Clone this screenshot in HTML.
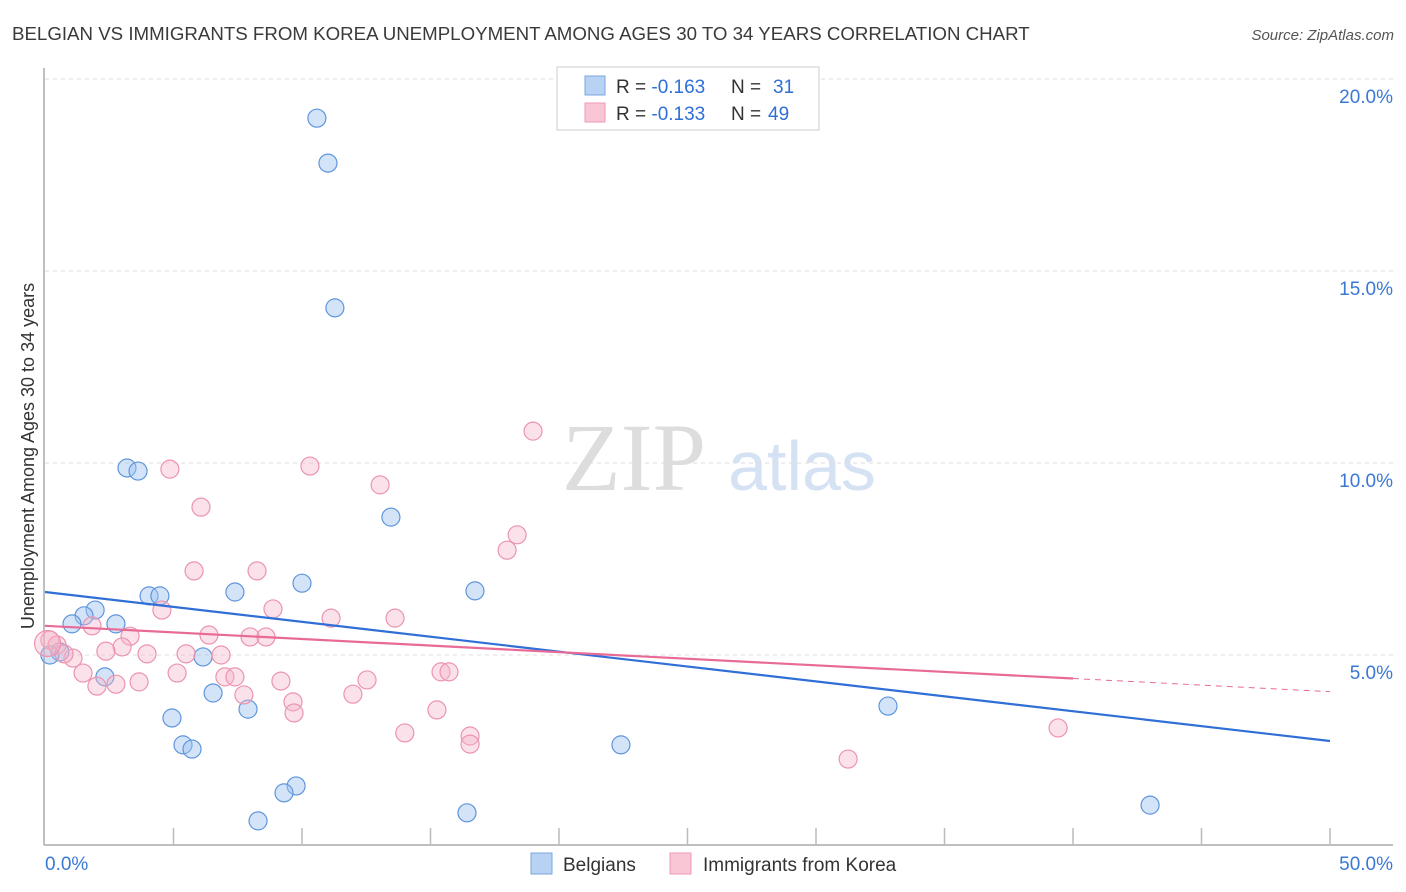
<!DOCTYPE html>
<html><head><meta charset="utf-8"><style>
body{margin:0;background:#fff;font-family:"Liberation Sans",sans-serif}
</style></head><body>
<svg id="c" width="1406" height="892" style="display:block">
<text x="12" y="40" font-size="18.7" fill="#3a3a3a">BELGIAN VS IMMIGRANTS FROM KOREA UNEMPLOYMENT AMONG AGES 30 TO 34 YEARS CORRELATION CHART</text>
<text x="1394" y="40" font-size="15" fill="#555" font-style="italic" text-anchor="end">Source: ZipAtlas.com</text>
<text x="634" y="490" font-size="96" fill="#ddd" font-family="Liberation Serif,serif" text-anchor="middle">ZIP</text>
<text x="802" y="490" font-size="70" fill="#d5e2f3" text-anchor="middle">atlas</text>
<text transform="translate(34,456) rotate(-90)" font-size="18" fill="#333" text-anchor="middle">Unemployment Among Ages 30 to 34 years</text>
<g id="grid"></g><g id="marks"></g>
<g>
<rect x="557" y="67" width="262" height="63" fill="#fff" stroke="#ccc"/>
<rect x="585" y="76" width="20" height="19" fill="#b8d2f3" stroke="#7aa7e0"/>
<rect x="585" y="103" width="20" height="19" fill="#f9c6d5" stroke="#ef9ab5"/>
<text x="616" y="93" font-size="19" fill="#333">R = <tspan fill="#2f6fd6">-0.163</tspan><tspan x="731">N = </tspan><tspan fill="#2f6fd6" x="773">31</tspan></text>
<text x="616" y="120" font-size="19" fill="#333">R = <tspan fill="#2f6fd6">-0.133</tspan><tspan x="731">N = </tspan><tspan fill="#2f6fd6" x="768">49</tspan></text>
</g>
<g>
<rect x="531" y="853" width="21" height="21" fill="#b8d2f3" stroke="#7aa7e0"/>
<text x="563" y="871" font-size="19" fill="#333">Belgians</text>
<rect x="670" y="853" width="21" height="21" fill="#f9c6d5" stroke="#ef9ab5"/>
<text x="703" y="871" font-size="19" fill="#333">Immigrants from Korea</text>
</g>
</svg>
<script>
const yTicks=[5,10,15,20];
const xTickLabels=["0.0%","50.0%"];
const belX=[10.58,11.01,11.28,3.19,3.62,13.46,10.0,16.73,7.39,4.05,4.47,1.95,1.52,1.05,2.76,0.58,0.19,6.15,6.54,2.33,7.9,4.94,5.37,5.72,22.41,32.8,43.0,9.77,9.3,8.29,16.42];
const belY=[18.98,17.81,14.04,9.87,9.79,8.59,6.87,6.67,6.64,6.54,6.54,6.17,6.02,5.81,5.81,5.08,5.0,4.95,4.01,4.43,3.59,3.36,2.66,2.55,2.66,3.67,1.09,1.59,1.41,0.68,0.89];
const korX=[18.99,10.31,4.86,13.04,6.07,18.37,17.98,5.8,8.25,8.87,4.55,11.13,13.62,1.83,6.38,7.98,8.6,3.31,0.19,0.47,3.0,2.37,3.97,5.49,6.85,1.09,0.74,1.48,5.14,7.0,7.39,2.02,2.76,3.66,9.18,12.53,15.41,15.72,7.74,11.98,9.65,9.69,15.25,14.0,16.54,16.54,39.42,31.25,0.1];
const korY=[10.83,9.92,9.84,9.43,8.85,8.13,7.73,7.19,7.19,6.2,6.17,5.96,5.96,5.76,5.52,5.47,5.47,5.49,5.39,5.26,5.21,5.10,5.03,5.03,5.0,4.92,5.03,4.53,4.53,4.43,4.43,4.19,4.24,4.30,4.32,4.35,4.56,4.56,3.96,3.98,3.78,3.49,3.57,2.97,2.89,2.68,3.1,2.29,5.3];
const belTrend=[6.64,-0.0776];
const korTrend=[5.76,-0.0343];
const korTrendEnd=40;
const X=v=>45+v*25.7, Y=v=>847-v*38.4;
const NS="http://www.w3.org/2000/svg";
function mk(p,t,a){const e=document.createElementNS(NS,t);for(const k in a)e.setAttribute(k,a[k]);p.appendChild(e);return e;}
const g=document.getElementById('grid'), m=document.getElementById('marks');
let ax=mk(g,'line',{x1:44,y1:68,x2:44,y2:845,stroke:'#aaa','stroke-width':1.5});


let bx=mk(g,'line',{x1:44,y1:845,x2:1393,y2:845,stroke:'#aaa','stroke-width':1.5});


yTicks.forEach(t=>{
 const l=mk(g,'line',{x1:45,x2:1393,y1:Y(t),y2:Y(t),stroke:'#ddd','stroke-dasharray':'4,4'});
 
 
 const tx=mk(g,'text',{x:1393,y:Y(t)+24,'font-size':19,fill:'#3a78d6','text-anchor':'end'});
 tx.textContent=t.toFixed(1)+'%';
 
 
});
for(let i=1;i<=10;i++){const l=mk(g,'line',{x1:X(i*5),x2:X(i*5),y1:828,y2:845,stroke:'#bbb','stroke-width':1.5});
 
 }
[[0,'start',45],[50,'end',1393]].forEach((d,i)=>{const t=mk(g,'text',{x:d[2],y:870,'font-size':19,fill:'#3a78d6','text-anchor':d[1]});t.textContent=xTickLabels[i];
 
 });
belX.forEach((x,i)=>{const c=mk(m,'circle',{cx:X(x),cy:Y(belY[i]),r:9,fill:'rgba(160,195,240,0.45)',stroke:'#5f95dc','stroke-width':1.2});
 
 });
korX.forEach((x,i)=>{const c=mk(m,'circle',{cx:X(x),cy:Y(korY[i]),r:i==48?13:9,fill:'rgba(246,180,200,0.4)',stroke:'#ec94b0','stroke-width':1.2});
 
 });
let bl=mk(m,'line',{x1:X(0),y1:Y(belTrend[0]),x2:X(50),y2:Y(belTrend[0]+belTrend[1]*50),stroke:'#2f6fd6','stroke-width':2.2});


let kl=mk(m,'line',{x1:X(0),y1:Y(korTrend[0]),x2:X(korTrendEnd),y2:Y(korTrend[0]+korTrend[1]*korTrendEnd),stroke:'#e86a97','stroke-width':2.2});


let kd=mk(m,'line',{x1:X(korTrendEnd),y1:Y(korTrend[0]+korTrend[1]*korTrendEnd),x2:X(50),y2:Y(korTrend[0]+korTrend[1]*50),stroke:'#e86a97','stroke-width':1,'stroke-dasharray':'6,5'});


</script>
</body></html>
